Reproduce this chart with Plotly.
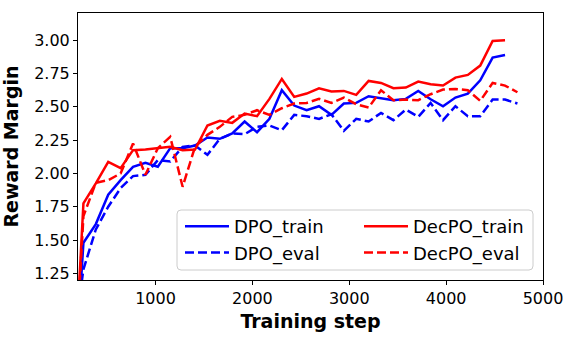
import plotly.graph_objects as go

# training steps (logged every 128 steps); eval has one extra point at the end
STEPS_TRAIN = [128 * k for k in range(1, 37)]
STEPS_EVAL = [128 * k for k in range(1, 38)]

DPO_TRAIN = [
    0.0, 1.48, 1.62, 1.84, 1.95, 2.05, 2.08, 2.05, 2.19, 2.19,
    2.21, 2.27, 2.26, 2.30, 2.39, 2.31, 2.41, 2.625, 2.51, 2.475,
    2.505, 2.44, 2.525, 2.53, 2.58, 2.565, 2.55, 2.56, 2.62, 2.557,
    2.505, 2.57, 2.60, 2.70, 2.87, 2.89,
]
DPO_EVAL = [
    0.6, 1.28, 1.58, 1.75, 1.89, 1.98, 1.99, 2.10, 2.09, 2.20,
    2.21, 2.14, 2.26, 2.30, 2.295, 2.35, 2.36, 2.325, 2.44, 2.43,
    2.41, 2.445, 2.32, 2.41, 2.39, 2.455, 2.40, 2.48, 2.425, 2.53,
    2.40, 2.505, 2.43, 2.43, 2.555, 2.555, 2.525,
]
DECPO_TRAIN = [
    0.0, 1.775, 1.925, 2.087, 2.04, 2.175, 2.18, 2.19, 2.20, 2.175,
    2.18, 2.36, 2.395, 2.38, 2.45, 2.43, 2.56, 2.71, 2.575, 2.60,
    2.64, 2.615, 2.62, 2.59, 2.695, 2.68, 2.64, 2.645, 2.69, 2.67,
    2.66, 2.72, 2.74, 2.81, 2.995, 3.00,
]
DECPO_EVAL = [
    0.0, 1.68, 1.93, 1.95, 2.00, 2.225, 1.99, 2.19, 2.275, 1.90,
    2.20, 2.29, 2.35, 2.425, 2.44, 2.475, 2.44, 2.49, 2.525, 2.53,
    2.56, 2.53, 2.57, 2.52, 2.495, 2.625, 2.55, 2.555, 2.55, 2.595,
    2.63, 2.635, 2.625, 2.545, 2.68, 2.66, 2.61,
]

X_TICKS = [1000, 2000, 3000, 4000, 5000]
Y_TICKS = [1.25, 1.50, 1.75, 2.00, 2.25, 2.50, 2.75, 3.00]

BLUE = "#0000ff"
RED = "#ff0000"
FONT = "DejaVu Sans"
DASH = "9px,4px"

W, H = 574, 338
L, R, T, B = 78, 31, 13, 58
PW, PH = W - L - R, H - T - B

fig = go.Figure()
fig.add_trace(go.Scatter(x=STEPS_TRAIN, y=DPO_TRAIN, name="DPO_train", mode="lines",
                         line=dict(color=BLUE, width=2.5), legend="legend", legendgroup="a"))
fig.add_trace(go.Scatter(x=STEPS_EVAL, y=DPO_EVAL, name="DPO_eval", mode="lines",
                         line=dict(color=BLUE, width=2.5, dash=DASH), legend="legend", legendgroup="b"))
fig.add_trace(go.Scatter(x=STEPS_TRAIN, y=DECPO_TRAIN, name="DecPO_train", mode="lines",
                         line=dict(color=RED, width=2.5), legend="legend2", legendgroup="c"))
fig.add_trace(go.Scatter(x=STEPS_EVAL, y=DECPO_EVAL, name="DecPO_eval", mode="lines",
                         line=dict(color=RED, width=2.5, dash=DASH), legend="legend2", legendgroup="d"))


def _round_box(x0, y0, x1, y1, r=4):
    # pixel box (page coords, top-left origin) -> rounded path in paper coords
    px = lambda v: (v - L) / PW
    py = lambda v: (H - B - v) / PH
    rx, ry = r / PW, r / PH
    a, b, c, d = px(x0), py(y1), px(x1), py(y0)
    return (f"M{a+rx},{b} L{c-rx},{b} Q{c},{b} {c},{b+ry} L{c},{d-ry} Q{c},{d} {c-rx},{d} "
            f"L{a+rx},{d} Q{a},{d} {a},{d-ry} L{a},{b+ry} Q{a},{b} {a+rx},{b} Z")


legend_common = dict(
    orientation="v",
    bgcolor="rgba(0,0,0,0)",
    borderwidth=0,
    font=dict(family=FONT, size=18, color="black"),
    tracegroupgap=0,
    itemwidth=44,
    xanchor="left",
    yanchor="top",
    yref="paper",
)

axis_common = dict(
    ticks="outside", ticklen=4, tickwidth=1, tickcolor="black",
    showgrid=False, zeroline=False, automargin=False,
    showline=True, linecolor="black", linewidth=1, mirror=True,
    tickfont=dict(family=FONT, size=16, color="black"),
)

fig.update_layout(
    width=W,
    height=H,
    paper_bgcolor="white",
    plot_bgcolor="white",
    margin=dict(l=L, r=R, t=T, b=B),
    font=dict(family=FONT, size=16, color="black"),
    showlegend=True,
    legend=dict(**legend_common, x=(180 - L) / PW, y=(H - B - 208) / PH),
    legend2=dict(**legend_common, x=(359 - L) / PW, y=(H - B - 208) / PH),
    shapes=[dict(
        type="path", xref="paper", yref="paper",
        path=_round_box(177, 210, 533, 270),
        line=dict(color="#cccccc", width=1),
        fillcolor="rgba(255,255,255,0.8)",
        layer="above",
    )],
    xaxis=dict(
        **axis_common,
        range=[200, 5000],
        tickvals=X_TICKS,
        ticktext=[str(v) for v in X_TICKS],
        title=dict(text="Training step", standoff=7,
                   font=dict(family=FONT, size=19, color="black", weight="bold")),
    ),
    yaxis=dict(
        **axis_common,
        range=[1.2, 3.205],
        tickvals=Y_TICKS,
        ticktext=[f"{v:.2f}" for v in Y_TICKS],
        title=dict(text="Reward Margin", standoff=12,
                   font=dict(family=FONT, size=19, color="black", weight="bold")),
    ),
)

# drop the page's default body margin so the figure sits at the window origin
fig.write_html("out.html", config={"displayModeBar": False},
               post_script="document.body.style.margin='0';")
